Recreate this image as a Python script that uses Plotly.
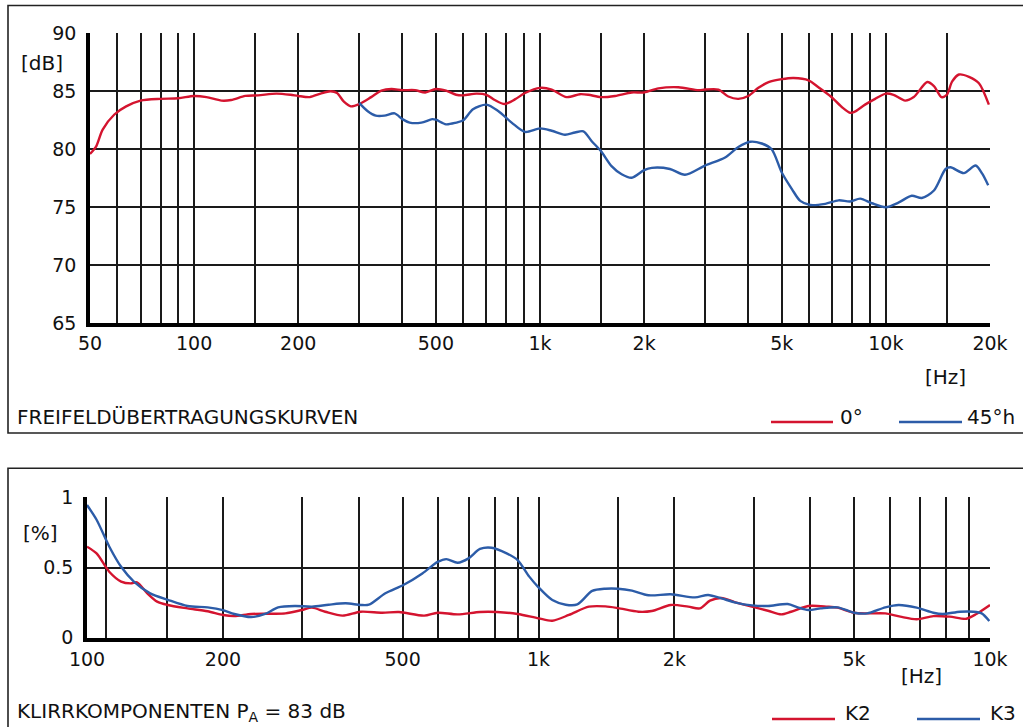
import math
import plotly.graph_objects as go

W, H = 1023, 727
RED = "#d4142f"
BLUE = "#2c5ca8"
FONT = "DejaVu Sans"

# ---------------- data: free-field response ----------------
f_0deg = [50, 52, 54.4, 58.8, 63.6, 70, 80, 90, 100, 108.6, 120, 128, 140.6, 153, 173, 190, 200,
          216, 232, 248, 259, 271, 284, 300, 325, 348, 372, 400, 435, 466, 500, 535, 572, 600,
          655, 700, 740, 790, 846, 905, 1000, 1081, 1194, 1305, 1380, 1500, 1648, 1842, 2000,
          2200, 2512, 2873, 3000, 3280, 3503, 3745, 4000, 4280, 4580, 5000, 5410, 5975, 6383,
          6931, 7455, 7880, 8080, 8705, 9310, 10000, 10520, 11370, 12040, 13170, 13770, 14480,
          15000, 15550, 16270, 17390, 18580, 19850]
db_0deg = [79.6, 80.2, 81.7, 83.0, 83.7, 84.2, 84.35, 84.4, 84.6, 84.5, 84.2, 84.25, 84.6, 84.65,
           84.8, 84.7, 84.6, 84.5, 84.8, 85.0, 84.85, 84.1, 83.7, 83.9, 84.5, 85.05, 85.2, 85.1,
           85.1, 84.9, 85.2, 85.05, 84.7, 84.65, 84.8, 84.7, 84.25, 83.9, 84.3, 84.85, 85.3,
           85.15, 84.5, 84.75, 84.7, 84.5, 84.6, 84.9, 84.9, 85.25, 85.35, 85.1, 85.15, 85.15,
           84.55, 84.35, 84.6, 85.3, 85.8, 86.05, 86.15, 85.95, 85.35, 84.55, 83.65, 83.15, 83.2,
           83.85, 84.35, 84.8, 84.7, 84.2, 84.5, 85.8, 85.45, 84.5, 84.7, 85.85, 86.45, 86.25,
           85.7, 83.85]

f_45h = [300, 317, 335, 355, 380, 400, 420, 454, 488, 500, 535, 572, 600, 640, 700, 757, 828,
         905, 1000, 1081, 1181, 1262, 1335, 1411, 1500, 1610, 1722, 1842, 2000, 2105, 2375, 2625,
         3000, 3429, 3745, 4055, 4374, 4675, 5000, 5355, 5655, 6042, 6680, 7300, 7880, 8430,
         9107, 10000, 10870, 11880, 12700, 13770, 14880, 15380, 16800, 18170, 18990, 19760]
db_45h = [84.0, 83.3, 82.9, 82.9, 83.1, 82.6, 82.3, 82.3, 82.6, 82.55, 82.15, 82.3, 82.5, 83.45,
          83.85, 83.3, 82.3, 81.5, 81.8, 81.6, 81.25, 81.45, 81.55, 80.7, 79.85, 78.55, 77.85,
          77.55, 78.2, 78.4, 78.3, 77.8, 78.6, 79.3, 80.2, 80.65, 80.5, 80.0, 78.0, 76.55, 75.55,
          75.2, 75.3, 75.6, 75.5, 75.75, 75.35, 75.0, 75.4, 76.0, 75.8, 76.45, 78.3, 78.45, 77.95,
          78.6, 77.9, 76.9]

# ---------------- data: distortion components ----------------
f_k2 = [100, 105, 112, 119, 125, 129, 136, 143, 151, 167, 185, 200, 212, 231, 252, 275, 299, 315,
        337, 368, 404, 451, 491, 558, 598, 662, 742, 809, 899, 1000, 1073, 1168, 1293, 1407,
        1500, 1665, 1782, 1963, 2146, 2277, 2397, 2542, 2719, 2970, 3223, 3450, 3626, 3960,
        4363, 4593, 4999, 5344, 5863, 6330, 6881, 7490, 8145, 8866, 9330, 10000]
pct_k2 = [0.648, 0.60, 0.47, 0.40, 0.387, 0.394, 0.316, 0.257, 0.233, 0.209, 0.188, 0.162, 0.154,
          0.169, 0.171, 0.173, 0.197, 0.214, 0.185, 0.157, 0.185, 0.178, 0.183, 0.157, 0.178,
          0.166, 0.183, 0.183, 0.169, 0.138, 0.121, 0.162, 0.221, 0.223, 0.211, 0.185, 0.19,
          0.233, 0.221, 0.209, 0.264, 0.283, 0.254, 0.221, 0.192, 0.166, 0.185, 0.226, 0.221,
          0.214, 0.178, 0.173, 0.173, 0.15, 0.131, 0.154, 0.15, 0.135, 0.169, 0.233]

f_k3 = [100, 105, 112, 119, 127, 138, 151, 167, 185, 200, 212, 231, 248, 265, 289, 315, 343, 374,
        404, 421, 458, 502, 553, 598, 625, 662, 700, 742, 787, 850, 899, 954, 1000, 1073, 1149,
        1219, 1315, 1407, 1500, 1611, 1752, 1963, 2220, 2375, 2542, 2719, 2970, 3223, 3565,
        3751, 3960, 4219, 4593, 4999, 5344, 5863, 6273, 6881, 7490, 7854, 8585, 9178, 9584, 9963]
pct_k3 = [0.945, 0.84, 0.65, 0.505, 0.40, 0.316, 0.27, 0.226, 0.216, 0.197, 0.169, 0.147, 0.169,
          0.216, 0.226, 0.221, 0.235, 0.245, 0.233, 0.235, 0.316, 0.375, 0.458, 0.54, 0.56,
          0.534, 0.565, 0.632, 0.641, 0.601, 0.553, 0.435, 0.359, 0.268, 0.235, 0.237, 0.333,
          0.349, 0.349, 0.335, 0.302, 0.309, 0.287, 0.304, 0.28, 0.252, 0.23, 0.226, 0.24,
          0.216, 0.197, 0.209, 0.216, 0.178, 0.173, 0.216, 0.233, 0.214, 0.178, 0.169, 0.185,
          0.185, 0.173, 0.119]

# ---------------- axis ticks ----------------
top_xtick_vals = [50, 100, 200, 500, 1000, 2000, 5000, 10000, 20000]
top_xtick_text = ["50", "100", "200", "500", "1k", "2k", "5k", "10k", "20k"]
top_xgrid = [60, 70, 80, 90, 150, 300, 400, 600, 700, 800, 900, 1500, 3000, 4000,
             6000, 7000, 8000, 9000, 15000]
top_ytick_vals = [65, 70, 75, 80, 85, 90]

bot_xtick_vals = [100, 200, 500, 1000, 2000, 5000, 10000]
bot_xtick_text = ["100", "200", "500", "1k", "2k", "5k", "10k"]
bot_xgrid = [110, 150, 300, 400, 600, 700, 800, 900, 1500, 3000, 4000,
             6000, 7000, 8000, 9000]
bot_ytick_vals = [0, 0.5, 1]
bot_ytick_text = ["0", "0.5", "1"]


def px(x):
    return x / W


def py(y):
    return 1 - y / H


GRID = "#1a1a1a"
fig = go.Figure()

line_kw = dict(shape="spline", smoothing=0.8, width=2.4)
fig.add_trace(go.Scatter(x=f_0deg, y=db_0deg, mode="lines", name="0°",
                         line=dict(color=RED, **line_kw), xaxis="x", yaxis="y"))
fig.add_trace(go.Scatter(x=f_45h, y=db_45h, mode="lines", name="45°h",
                         line=dict(color=BLUE, **line_kw), xaxis="x", yaxis="y"))
fig.add_trace(go.Scatter(x=f_k2, y=pct_k2, mode="lines", name="K2",
                         line=dict(color=RED, **line_kw), xaxis="x2", yaxis="y2"))
fig.add_trace(go.Scatter(x=f_k3, y=pct_k3, mode="lines", name="K3",
                         line=dict(color=BLUE, **line_kw), xaxis="x2", yaxis="y2"))

tickfont = dict(family=FONT, size=19, color="#111")

common_x = dict(type="log", showgrid=True, gridcolor=GRID, gridwidth=1.6, zeroline=False,
                showline=True, linecolor="#000", linewidth=3.5, ticks="",
                tickfont=tickfont, tickmode="array", automargin=False)
common_y = dict(showgrid=True, gridcolor=GRID, gridwidth=1.6, zeroline=False,
                showline=True, linecolor="#000", linewidth=3.5, ticks="",
                tickfont=tickfont, tickmode="array", automargin=False, ticklabelstandoff=6)

fig.update_layout(
    width=W, height=H, margin=dict(l=0, r=0, t=0, b=0, pad=0), autosize=False,
    paper_bgcolor="white", plot_bgcolor="white", showlegend=False,
    font=dict(family=FONT, size=19, color="#111"),
    xaxis=dict(**common_x, domain=[px(90), px(990)],
               range=[math.log10(50), math.log10(20000)],
               tickvals=top_xtick_vals, ticktext=top_xtick_text, anchor="y",
               minor=dict(tickvals=top_xgrid, showgrid=True, gridcolor=GRID, gridwidth=1.6,
                          ticks="")),
    yaxis=dict(**common_y, domain=[py(323.3), py(33.3)], range=[65, 90],
               tickvals=top_ytick_vals, anchor="x"),
    xaxis2=dict(**common_x, domain=[px(87), px(990)],
                range=[2, 4], tickvals=bot_xtick_vals, ticktext=bot_xtick_text, anchor="y2",
                ticklabelstandoff=2,
                minor=dict(tickvals=bot_xgrid, showgrid=True, gridcolor=GRID, gridwidth=1.6,
                           ticks="")),
    yaxis2=dict(**common_y, domain=[py(637.7), py(497.3)], range=[0, 1],
                tickvals=bot_ytick_vals, ticktext=bot_ytick_text, anchor="x2"),
)

# frames
fig.add_shape(type="rect", xref="paper", yref="paper", x0=px(8), x1=px(1040),
              y0=py(433), y1=py(5.5), line=dict(color="#222", width=1.6), layer="below")
fig.add_shape(type="rect", xref="paper", yref="paper", x0=px(8), x1=px(1040),
              y0=py(745), y1=py(468.3), line=dict(color="#222", width=1.6), layer="below")

ann_font = dict(family=FONT, size=20, color="#111")


def text(x, y, s, xanchor="left"):
    fig.add_annotation(x=px(x), y=py(y), xref="paper", yref="paper", text=s, showarrow=False,
                       xanchor=xanchor, yanchor="middle", font=ann_font)


text(19, 63, "[dB]")
text(21, 533, "[%]")
text(945, 377, "[Hz]", "center")
text(921, 676, "[Hz]", "center")
text(15, 417, "FREIFELDÜBERTRAGUNGSKURVEN")
text(15, 712, "KLIRRKOMPONENTEN P<sub>A</sub> = 83 dB")

# legend samples
legend_items = [(771, 833, 422, RED, 838, 417, "0°"),
                (899, 962, 422, BLUE, 965, 417, "45°h"),
                (772, 835, 719, RED, 843, 713, "K2"),
                (917, 980, 719, BLUE, 988, 713, "K3")]
for x0, x1, yl, col, xt, yt, lab in legend_items:
    fig.add_shape(type="line", xref="paper", yref="paper", x0=px(x0), x1=px(x1),
                  y0=py(yl), y1=py(yl), line=dict(color=col, width=2.4))
    text(xt, yt, lab)

fig.write_html(
    "out.html",
    config={"displayModeBar": False},
    post_script="document.body.style.margin='0';document.body.style.overflow='hidden';"
                "document.documentElement.style.overflow='hidden';",
)
